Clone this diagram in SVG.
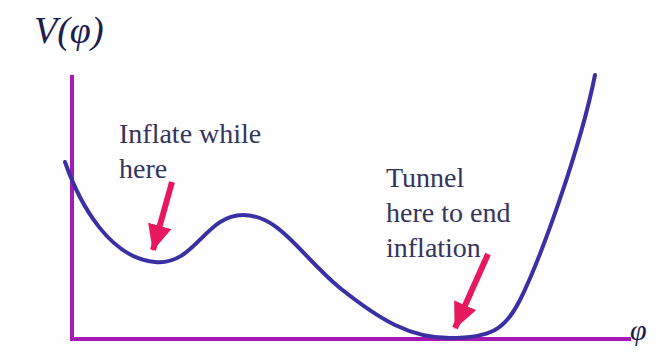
<svg xmlns="http://www.w3.org/2000/svg" width="670" height="364" viewBox="0 0 670 364">
<defs>
<style>
text{font-family:"Liberation Serif","Times New Roman","DejaVu Serif",serif}
.lbl{font-size:28px;fill:#34345e}
.math{font-style:italic;fill:#1c1c50}
.axis{stroke:#a51ab4;stroke-width:4;fill:none}
.curve{stroke:#3b30a3;stroke-width:4;fill:none;stroke-linecap:round}
.arrow{stroke:#e8185c;stroke-width:6;fill:none;marker-end:url(#ah)}
</style>
<marker id="ah" markerWidth="26" markerHeight="24" viewBox="0 0 26 24" refX="25" refY="12" orient="auto" markerUnits="userSpaceOnUse">
<path d="M0,0 L26,12 L0,24 Z" fill="#e8185c"/>
</marker>
</defs>
<rect width="670" height="364" fill="#fdfefd"/>
<g id="axes">
<line class="axis" x1="72" y1="75" x2="72" y2="341"/>
<line class="axis" x1="70" y1="339" x2="631" y2="339"/>
</g>
<g id="axis-labels">
<text class="math" x="34" y="43" font-size="38">V(φ)</text>
<text class="math" x="630" y="340" font-size="30">φ</text>
</g>
<g id="potential">
<path class="curve" d="M65,162 C80,205 110,258 155,262 C195,266 205,215 243,215 C280,215 300,255 340,288 C380,320 410,338 450,338 C490,338 505,330 520,300 C540,260 580,150 595,75"/>
</g>
<g id="label-inflate">
<text class="lbl" x="119" y="143">Inflate while</text>
<text class="lbl" x="119" y="178">here</text>
</g>
<g id="label-tunnel">
<text class="lbl" x="386" y="187">Tunnel</text>
<text class="lbl" x="386" y="222">here to end</text>
<text class="lbl" x="386" y="257">inflation</text>
</g>
<g id="connectors">
<line class="arrow" x1="172" y1="182" x2="153" y2="250"/>
<line class="arrow" x1="488" y1="254" x2="455" y2="328"/>
</g>
</svg>
